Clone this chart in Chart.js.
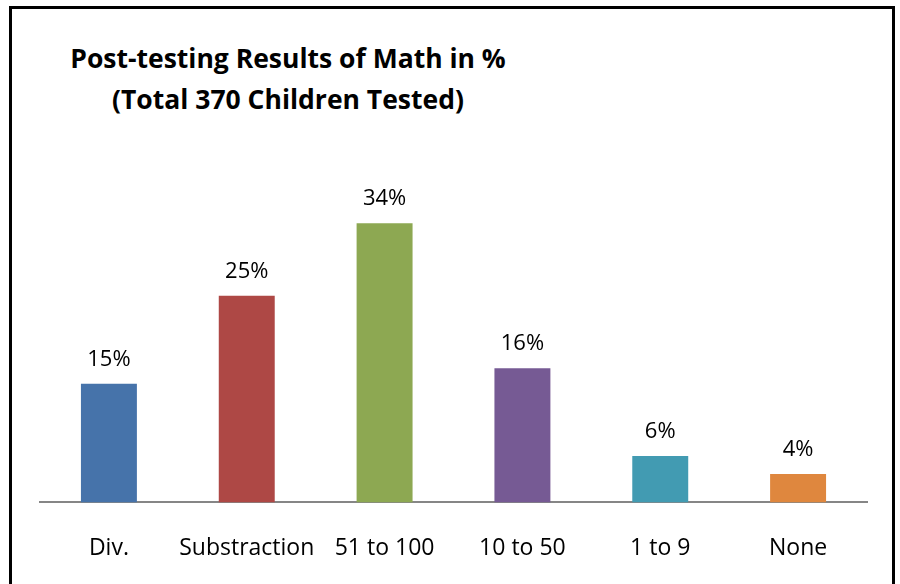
<!DOCTYPE html>
<html>
<head>
<meta charset="utf-8">
<script src="https://cdn.jsdelivr.net/npm/chart.js@4.4.0/dist/chart.umd.min.js"></script>
<style>
  html, body { margin: 0; padding: 0; background: #fff; }
  #wrap { position: relative; width: 900px; height: 584px; overflow: hidden; }
  #box {
    position: absolute; left: 9px; top: 6px; width: 880px; height: 600px;
    border: 3px solid #000;
  }
  #titulo {
    position: absolute; left: 0; top: 38px; width: 576px;
    text-align: center; font: bold 26.5px "Open Sans", sans-serif; line-height: 41px; color: #000;
  }
  canvas { position: absolute; left: 0; top: 0; }
</style>
</head>
<body>
<div id="wrap">
  <div id="box"></div>
  <div id="titulo">Post-testing Results of Math in %<br>(Total 370 Children Tested)</div>
  <canvas id="grafica" width="900" height="584"></canvas>
</div>
<script>
const categorias = ["Div.", "Substraction", "51 to 100", "10 to 50", "1 to 9", "None"];
const porcentajes = [14.6, 25.4, 34.3, 16.5, 5.7, 3.5];
const etiquetas = ["15%", "25%", "34%", "16%", "6%", "4%"];
const colores = ["#4673AA", "#AE4845", "#8DA852", "#765A94", "#429BB2", "#DF873E"];

// etiquetas encima de cada barra
const etiquetasBarras = {
  id: "etiquetasBarras",
  afterDatasetsDraw(chart) {
    const ctx = chart.ctx;
    const meta = chart.getDatasetMeta(0);
    ctx.save();
    ctx.font = "22px 'Open Sans', sans-serif";
    ctx.fillStyle = "#000";
    ctx.textAlign = "center";
    ctx.textBaseline = "alphabetic";
    meta.data.forEach((bar, i) => {
      ctx.fillText(etiquetas[i], bar.x, bar.y - 18);
    });
    ctx.restore();
  }
};

const ctx = document.getElementById("grafica").getContext("2d");
new Chart(ctx, {
  type: "bar",
  data: {
    labels: categorias,
    datasets: [{
      data: porcentajes,
      backgroundColor: colores,
      categoryPercentage: 1,
      barPercentage: 0.406
    }]
  },
  options: {
    responsive: false,
    animation: false,
    layout: { padding: { left: 40, right: 33, top: 177, bottom: -10 } },
    plugins: {
      legend: { display: false },
      title: { display: false },
      tooltip: { enabled: false }
    },
    scales: {
      x: {
        grid: { display: false, drawTicks: false },
        border: { display: true, color: "#868686", width: 2 },
        ticks: { color: "#000", font: { family: "Open Sans", size: 23 }, padding: 32, maxRotation: 0, autoSkip: false }
      },
      y: {
        display: false,
        min: 0,
        max: 40
      }
    }
  },
  plugins: [etiquetasBarras]
});
</script>
</body>
</html>
